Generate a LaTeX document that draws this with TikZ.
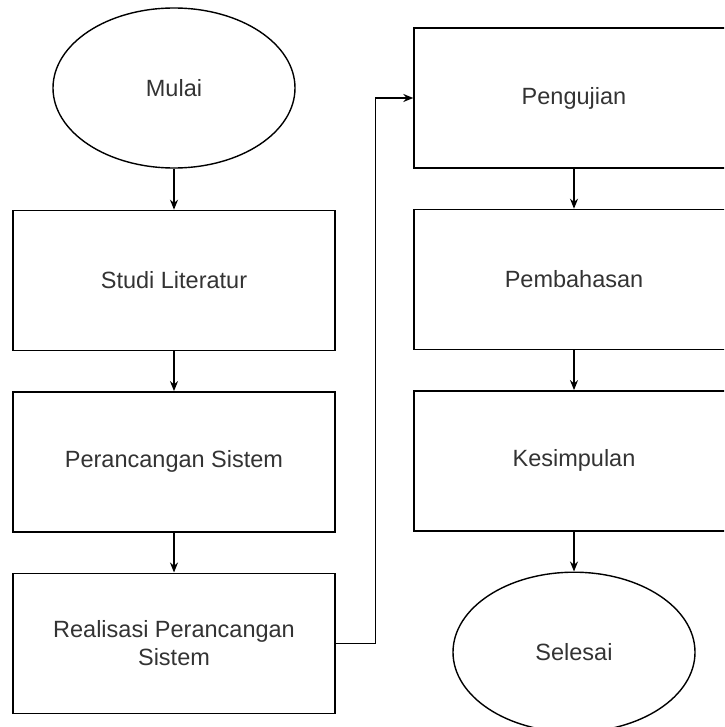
\documentclass[tikz,border=0pt]{standalone}
\usepackage{fontspec}
\setmainfont{Liberation Sans}
\usetikzlibrary{positioning, arrows.meta, shapes.geometric}
\definecolor{tcolor}{HTML}{333333}

\begin{document}
\begin{tikzpicture}[x=1pt, y=-1pt,
    stepbox/.style={rectangle, draw, line width=1.4pt, minimum width=322pt, minimum height=140pt, align=center, font=\fontsize{23.5}{28}\selectfont, text=tcolor},
    term/.style={ellipse, draw, line width=1.4pt, minimum width=242pt, minimum height=160pt, inner sep=0pt, font=\fontsize{23.5}{28}\selectfont, text=tcolor},
    arr/.style={-{Stealth[length=10pt, width=8pt]}, line width=1.4pt},
  ]
    \useasboundingbox (0,0) rectangle (724,727);
    \clip (0,0) rectangle (724,727);

    % left column
    \node[term] (mulai) at (174,88) {Mulai};
    \node[stepbox, below=41pt of mulai] (studi) {Studi Literatur};
    \node[stepbox, below=40pt of studi] (rancang) {Perancangan Sistem};
    \node[stepbox, below=40pt of rancang] (real) {Realisasi Perancangan\\Sistem};

    % right column
    \node[stepbox, minimum width=320pt] (uji) at (574,98) {Pengujian};
    \node[stepbox, minimum width=320pt, below=40pt of uji] (bahas) {Pembahasan};
    \node[stepbox, minimum width=320pt, below=40pt of bahas] (simpul) {Kesimpulan};
    \node[term, below=40pt of simpul] (selesai) {Selesai};

    \draw[arr] (mulai) -- (studi);
    \draw[arr] (studi) -- (rancang);
    \draw[arr] (rancang) -- (real);
    \draw[arr] (real.east) -- ++(40pt,0) |- (uji.west);
    \draw[arr] (uji) -- (bahas);
    \draw[arr] (bahas) -- (simpul);
    \draw[arr] (simpul) -- (selesai);
  \end{tikzpicture}
\end{document}
